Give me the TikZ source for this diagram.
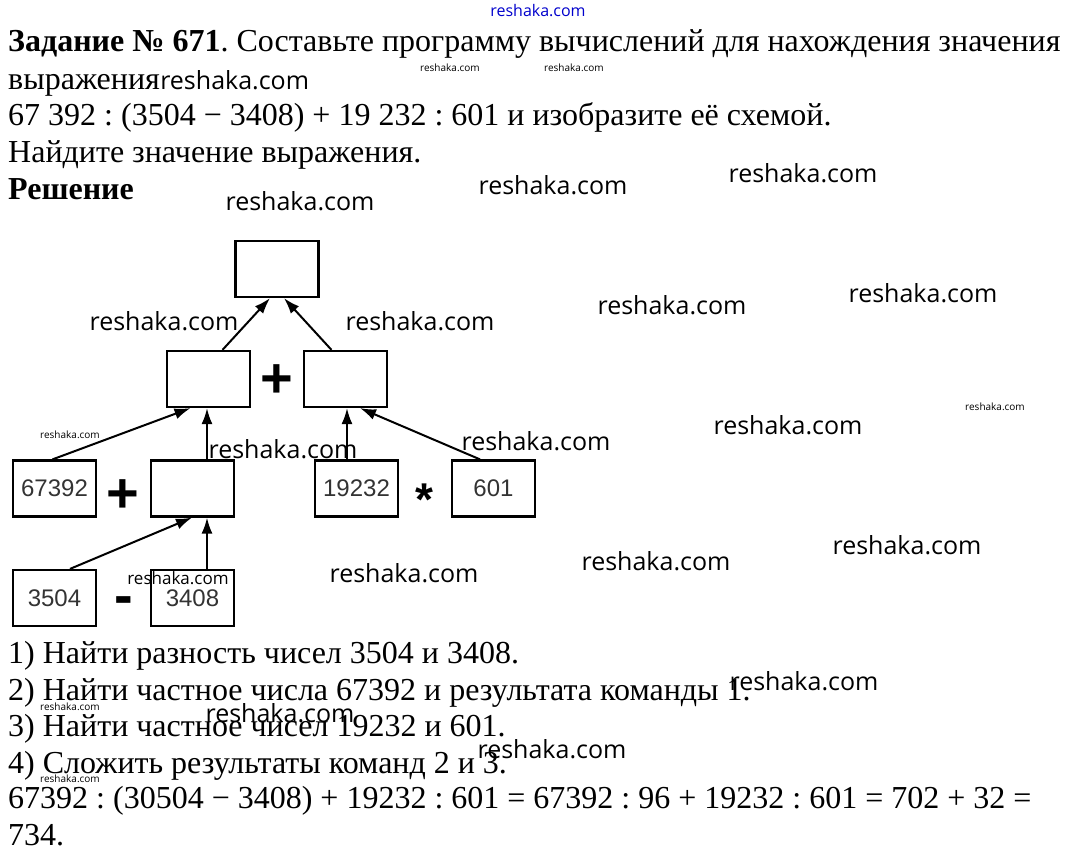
\documentclass[tikz,border=0pt]{standalone}
\usepackage{fontspec}
\setmainfont{Liberation Serif}
\newfontfamily\boxfont{Liberation Sans}
\newfontfamily\markfont{Open Sans}
\usetikzlibrary{arrows.meta,positioning}
\frenchspacing

\tikzset{
  cell/.style={draw, line width=2.2pt, minimum width=83pt, minimum height=56pt, inner sep=0pt,
    font=\boxfont\fontsize{24}{26}\selectfont, text=black!80},
  op/.style={inner sep=0pt, font=\boxfont\bfseries\fontsize{56}{56}\selectfont},
  txt/.style={anchor=base west, inner sep=0pt, font=\fontsize{32}{32}\selectfont},
  wm/.style={inner sep=0pt, font=\markfont\fontsize{25}{25}\selectfont},
  wmmid/.style={inner sep=0pt, font=\markfont\fontsize{17}{17}\selectfont},
  wmsmall/.style={inner sep=0pt, font=\markfont\fontsize{10}{10}\selectfont},
  up/.style={-{Latex[length=16pt,width=11pt]}, line width=2pt},
}

\begin{document}
\begin{tikzpicture}[x=1pt,y=-1pt,node distance=110pt,on grid]
  \useasboundingbox (0,0) rectangle (1076,858);

  \node[txt] (t1) at (8,52) {\textbf{Задание № 671}. Составьте программу вычислений для нахождения значения};
  \node[txt] (t2) at (8,90) {выражения};
  \node[txt] (t3) at (8,126) {67 392 : (3504 − 3408) + 19 232 : 601 и изобразите её схемой.};
  \node[txt] (t4) at (8,163) {Найдите значение выражения.};
  \node[txt] (t5) at (8,200) {\textbf{Решение}};

  \node[cell] (lsum) at (208.5,379) {};
  \node[cell] (rsum) [right=137pt of lsum] {};
  \node[cell] (total) [above right=110pt and 68.5pt of lsum] {};
  \node[cell] (diff) [below left=109.5pt and 16pt of lsum] {};
  \node[cell] (n67392) [left=138pt of diff] {67392};
  \node[cell] (n3504) [below=109.5pt of n67392] {3504};
  \node[cell] (n3408) [below=109.5pt of diff] {3408};
  \node[cell] (n19232) [below right=109.5pt and 11pt of rsum] {19232};
  \node[cell] (n601) [right=137pt of n19232] {601};

  \node[op] (plus1) at (276.5,381) {+};
  \node[op] (plus2) at (122.5,496) {+};
  \node[op, font=\boxfont\bfseries\fontsize{46}{46}\selectfont] (times) at (424,500) {*};
  \node[op] (minus) at (123.5,606) {-};

  \draw[up] ([xshift=14pt]lsum.north) -- ([xshift=-7pt]total.south);
  \draw[up] ([xshift=-14pt]rsum.north) -- ([xshift=7pt]total.south);
  \draw[up] ([xshift=-2pt]n67392.north) -- ([xshift=-18pt]lsum.south);
  \draw[up] ([xshift=14.5pt]diff.north) -- ([xshift=-1.5pt]lsum.south);
  \draw[up] ([xshift=-9.5pt]n19232.north) -- ([xshift=1.5pt]rsum.south);
  \draw[up] ([xshift=-13.5pt]n601.north) -- ([xshift=14.5pt]rsum.south);
  \draw[up] ([xshift=15.5pt]n3504.north) -- ([xshift=-0.5pt]diff.south);
  \draw[up] ([xshift=14.5pt]n3408.north) -- ([xshift=14.5pt]diff.south);

  \node[txt] (s1) at (8,663) {1) Найти разность чисел 3504 и 3408.};
  \node[txt] (s2) at (8,700) {2) Найти частное числа 67392 и результата команды 1.};
  \node[txt] (s3) at (8,736) {3) Найти частное чисел 19232 и 601.};
  \node[txt] (s4) at (8,773) {4) Сложить результаты команд 2 и 3.};
  \node[txt] (s5) at (8,808) {67392 : (30504 − 3408) + 19232 : 601 = 67392 : 96 + 19232 : 601 = 702 + 32 =};
  \node[txt] (s6) at (8,845) {734.};

  \node[inner sep=0pt, font=\markfont\fontsize{16}{16}\selectfont, text=blue!80!black] (wm0) at (538,11) {reshaka.com};
  \node[wm, anchor=base west] (wm1) at (t2.base east) {reshaka.com};
  \node[wmsmall] (wm2) at (450,68) {reshaka.com};
  \node[wmsmall] (wm3) at (574,68) {reshaka.com};
  \node[wm] (wm4) at (553,185) {reshaka.com};
  \node[wm] (wm5) at (803,173) {reshaka.com};
  \node[wm] (wm6) at (300,201) {reshaka.com};
  \node[wm] (wm7) at (164,321) {reshaka.com};
  \node[wm] (wm8) at (420,321) {reshaka.com};
  \node[wm] (wm9) at (672,305) {reshaka.com};
  \node[wm] (wm10) at (923,293) {reshaka.com};
  \node[wmsmall] (wm11) at (70,435) {reshaka.com};
  \node[wmsmall] (wm12) at (995,407) {reshaka.com};
  \node[wm] (wm13) at (283,449) {reshaka.com};
  \node[wm] (wm14) at (536,441) {reshaka.com};
  \node[wm] (wm15) at (788,425) {reshaka.com};
  \node[wmmid] (wm16) at (178,578) {reshaka.com};
  \node[wm] (wm17) at (404,573) {reshaka.com};
  \node[wm] (wm18) at (656,561) {reshaka.com};
  \node[wm] (wm19) at (907,545) {reshaka.com};
  \node[wm] (wm20) at (804,681) {reshaka.com};
  \node[wm] (wm21) at (280,713) {reshaka.com};
  \node[wm] (wm22) at (552,749) {reshaka.com};
  \node[wmsmall] (wm23) at (70,707) {reshaka.com};
  \node[wmsmall] (wm24) at (70,779) {reshaka.com};
\end{tikzpicture}
\end{document}
